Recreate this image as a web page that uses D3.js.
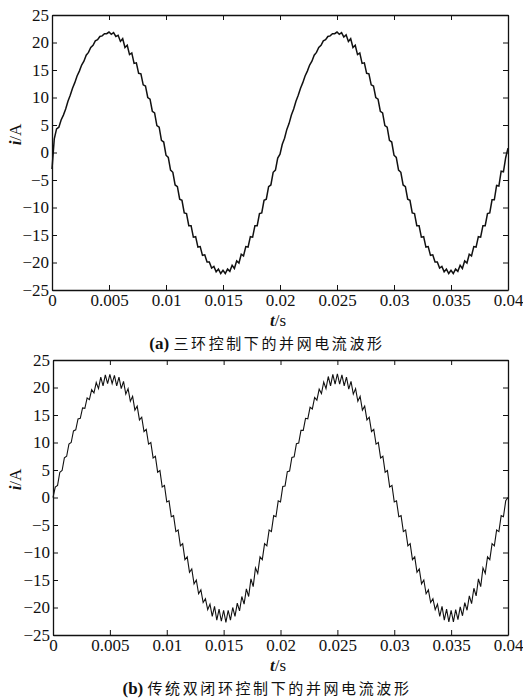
<!DOCTYPE html>
<html>
<head>
<meta charset="utf-8">
<script src="https://cdn.jsdelivr.net/npm/d3@7"></script>
<style>
  body { margin: 0; background: #fff; }
  svg { display: block; }
  .serif { font-family: "Liberation Serif", "Times New Roman", Times, "DejaVu Serif", serif; }
  .cjk { font-family: "Noto Sans CJK SC", "Noto Sans", sans-serif; }
</style>
</head>
<body>
<div class="chart"></div>
<script>
// sample clock of the traces (s)
var dt = 0.0002;

// x ticks / y ticks
var xTicks = [0, 0.005, 0.01, 0.015, 0.02, 0.025, 0.03, 0.035, 0.04];
var xTickLabels = ["0", "0.005", "0.01", "0.015", "0.02", "0.025", "0.03", "0.035", "0.04"];
var yTicks = [-25, -20, -15, -10, -5, 0, 5, 10, 15, 20, 25];

var captionTags = ["(a)", "(b)"];
var captions = ["三环控制下的并网电流波形", "传统双闭环控制下的并网电流波形"];

// (a) three-loop control, grid current (A), one value every dt
var currentA = [
  -3.0, 2.5, 4.3, 4.6, 5.9, 6.8, 7.9, 9.3, 10.4, 11.7,
  12.7, 13.9, 14.8, 15.9, 16.6, 17.7, 18.2, 19.1, 19.5, 20.3,
  20.5, 21.1, 21.2, 21.6, 21.6, 21.9, 21.5, 21.8, 21.1, 21.3,
  20.2, 20.7, 19.1, 19.5, 17.8, 18.1, 16.2, 16.3, 14.4, 14.3,
  12.3, 12.1, 10.0, 9.7, 7.5, 7.2, 4.9, 4.6, 2.2, 1.9,
  -0.5, -0.9, -3.2, -3.6, -5.9, -6.2, -8.5, -8.7, -11.0, -11.1,
  -13.3, -13.3, -15.4, -15.3, -17.2, -17.1, -18.7, -18.6, -19.9, -19.9,
  -21.0, -20.7, -21.7, -21.2, -22.0, -21.4, -22.0, -21.2, -21.6, -20.5,
  -21.1, -19.7, -20.1, -18.5, -18.8, -17.1, -17.2, -15.3, -15.4, -13.3,
  -13.3, -11.1, -11.0, -8.7, -8.5, -6.2, -5.9, -3.6, -3.2, -1.0,
  -0.3, 1.5, 2.6, 4.2, 5.3, 6.8, 7.9, 9.3, 10.4, 11.7,
  12.7, 13.9, 14.8, 15.9, 16.6, 17.7, 18.2, 19.1, 19.5, 20.3,
  20.5, 21.1, 21.2, 21.6, 21.6, 21.9, 21.5, 21.8, 21.0, 21.4,
  20.2, 20.7, 19.1, 19.5, 17.8, 18.1, 16.2, 16.3, 14.4, 14.3,
  12.3, 12.1, 10.0, 9.7, 7.5, 7.2, 4.9, 4.6, 2.2, 1.9,
  -0.5, -0.9, -3.2, -3.6, -5.9, -6.2, -8.5, -8.7, -11.0, -11.1,
  -13.3, -13.3, -15.4, -15.3, -17.2, -17.1, -18.7, -18.6, -19.9, -19.9,
  -21.0, -20.7, -21.7, -21.2, -22.0, -21.4, -22.0, -21.2, -21.6, -20.5,
  -21.1, -19.7, -20.1, -18.5, -18.8, -17.1, -17.2, -15.3, -15.4, -13.3,
  -13.3, -11.1, -11.0, -8.6, -8.6, -6.0, -6.1, -3.4, -3.5, -0.9,
  0.8
];

// (b) conventional double closed loop, grid current (A)
var currentB = [
  0.0, 1.9, 2.2, 4.6, 4.9, 7.2, 7.5, 9.7, 10.0, 12.1,
  12.3, 14.3, 14.4, 16.3, 16.2, 18.1, 17.8, 19.6, 19.0, 20.9,
  19.8, 21.9, 20.3, 22.3, 20.7, 22.4, 20.7, 22.2, 20.3, 21.9,
  19.8, 21.1, 18.8, 19.8, 17.5, 18.4, 15.9, 16.6, 14.1, 14.6,
  12.0, 12.4, 9.7, 10.0, 7.2, 7.5, 4.6, 4.9, 1.9, 2.2,
  -0.8, -0.6, -3.5, -3.3, -6.2, -5.9, -8.8, -8.4, -11.3, -10.8,
  -13.6, -13.0, -15.7, -15.0, -17.5, -16.8, -19.1, -18.4, -20.4, -19.4,
  -21.6, -19.8, -22.3, -20.3, -22.5, -20.5, -22.7, -20.5, -22.3, -20.0,
  -21.6, -19.2, -20.6, -18.0, -19.4, -16.6, -18.0, -14.8, -16.2, -12.8,
  -13.8, -10.8, -11.3, -8.4, -8.8, -5.9, -6.2, -3.3, -3.5, -0.6,
  -0.8, 2.0, 2.1, 4.7, 4.8, 7.3, 7.4, 9.8, 9.9, 12.2,
  12.2, 14.4, 14.3, 16.4, 16.1, 18.2, 17.7, 19.7, 18.9, 21.0,
  19.8, 22.0, 20.3, 22.4, 20.6, 22.5, 20.6, 22.3, 20.3, 21.9,
  19.7, 21.1, 18.8, 19.8, 17.5, 18.4, 15.9, 16.6, 14.1, 14.6,
  12.0, 12.4, 9.7, 10.0, 7.2, 7.5, 4.6, 4.9, 1.9, 2.2,
  -0.8, -0.6, -3.5, -3.3, -6.2, -5.9, -8.8, -8.4, -11.3, -10.8,
  -13.6, -13.0, -15.7, -15.0, -17.5, -16.8, -19.1, -18.4, -20.4, -19.4,
  -21.6, -19.8, -22.3, -20.3, -22.6, -20.5, -22.6, -20.4, -22.2, -19.9,
  -21.5, -19.1, -20.5, -17.9, -19.3, -16.5, -17.9, -14.8, -16.2, -12.8,
  -13.8, -10.8, -11.3, -8.4, -8.8, -5.9, -6.2, -3.3, -3.5, -0.6,
  0.0
];

var svgWidth = 523;
var svgHeight = 698;

var svg = d3.select(".chart")
  .append("svg")
  .attr("width", svgWidth)
  .attr("height", svgHeight);

// panel boxes in page pixels
var panels = [
  { data: currentA, left: 52, right: 508, top: 15, bottom: 290, tag: captionTags[0], caption: captions[0], stroke: 1.5 },
  { data: currentB, left: 53, right: 508, top: 360, bottom: 635, tag: captionTags[1], caption: captions[1], stroke: 1.1 }
];

function drawPanel(p) {
  var x = d3.scaleLinear().domain([0, 0.04]).range([p.left, p.right]);
  var y = d3.scaleLinear().domain([-25, 25]).range([p.bottom, p.top]);

  var g = svg.append("g");

  // trace
  var line = d3.line()
    .x(function(d, i) { return x(i * dt); })
    .y(function(d) { return y(d); });

  g.append("path")
    .datum(p.data)
    .attr("fill", "none")
    .attr("stroke", "#111")
    .attr("stroke-width", p.stroke)
    .attr("d", line);

  // axes, ticks pointing inwards on all four sides
  var bottomAxis = d3.axisBottom(x).tickValues(xTicks)
    .tickFormat(function(d, i) { return xTickLabels[i]; })
    .tickSizeInner(-5).tickSizeOuter(0).tickPadding(4);
  var topAxis = d3.axisTop(x).tickValues(xTicks).tickFormat("")
    .tickSizeInner(-5).tickSizeOuter(0);
  var leftAxis = d3.axisLeft(y).tickValues(yTicks)
    .tickSizeInner(-5).tickSizeOuter(0).tickPadding(3);
  var rightAxis = d3.axisRight(y).tickValues(yTicks).tickFormat("")
    .tickSizeInner(-5).tickSizeOuter(0);

  var xb = g.append("g").attr("transform", "translate(0," + p.bottom + ")").call(bottomAxis);
  var xt = g.append("g").attr("transform", "translate(0," + p.top + ")").call(topAxis);
  var yl = g.append("g").attr("transform", "translate(" + p.left + ",0)").call(leftAxis);
  var yr = g.append("g").attr("transform", "translate(" + p.right + ",0)").call(rightAxis);

  [xb, xt, yl, yr].forEach(function(a) {
    a.attr("font-family", null).attr("font-size", null).attr("class", "serif");
    a.selectAll(".domain").attr("stroke", "#111").attr("stroke-width", 1.3);
    a.selectAll(".tick line").attr("stroke", "#111").attr("stroke-width", 1);
    a.selectAll(".tick text")
      .attr("fill", "#111")
      .attr("font-size", "17px");
  });

  // axis titles
  var xt1 = g.append("text")
    .attr("class", "serif")
    .attr("x", 278)
    .attr("y", p.bottom + 36)
    .attr("text-anchor", "middle")
    .attr("font-size", "17px")
    .attr("fill", "#111");
  xt1.append("tspan").attr("font-style", "italic").attr("font-weight", "bold").text("t");
  xt1.append("tspan").text("/s");

  var cy = (p.top + p.bottom) / 2 - 18;
  var yt = g.append("text")
    .attr("class", "serif")
    .attr("transform", "translate(21," + cy + ") rotate(-90)")
    .attr("text-anchor", "middle")
    .attr("font-size", "17px")
    .attr("fill", "#111");
  yt.append("tspan").attr("font-style", "italic").attr("font-weight", "bold").text("i");
  yt.append("tspan").text("/A");

  // caption under the panel
  var cap = g.append("text")
    .attr("x", 267)
    .attr("y", p.bottom + 59)
    .attr("text-anchor", "middle")
    .attr("fill", "#111");
  cap.append("tspan")
    .attr("class", "serif")
    .attr("font-size", "17px")
    .attr("font-weight", "bold")
    .text(p.tag + " ");
  cap.append("tspan")
    .attr("class", "cjk")
    .attr("font-size", "15px")
    .attr("letter-spacing", "2.6px")
    .text(p.caption);
}

panels.forEach(drawPanel);
</script>
</body>
</html>
